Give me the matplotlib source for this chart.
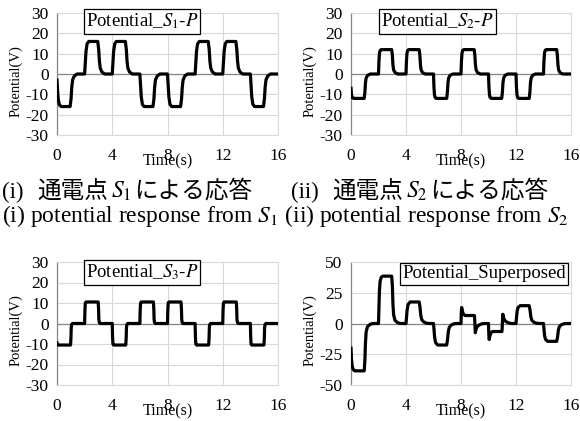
import matplotlib
matplotlib.use("Agg")
import matplotlib.pyplot as plt

W, H = 580, 421

plt.rcParams["font.family"] = ["Liberation Serif", "Noto Sans CJK JP"]
plt.rcParams["mathtext.fontset"] = "stix"
plt.rcParams["axes.unicode_minus"] = False

# ---------------------------------------------------------------------------
# Data (time in s, potential in V)
# ---------------------------------------------------------------------------
X_TICKS = [0, 4, 8, 12, 16]
Y_TICKS_S = [-30, -20, -10, 0, 10, 20, 30]
Y_TICKS_SUP = [-50, -25, 0, 25, 50]

S1_PTS = [
    (0.00, -3.0), (0.05, -9.0), (0.10, -13.0), (0.18, -15.2), (0.30, -16.0), (0.95, -16.0),
    (1.02, -12.0), (1.07, -6.4), (1.13, -2.9), (1.25, -1.0), (1.45, 0.0),
    (2.00, 0.0), (2.05, 5.6), (2.10, 11.2), (2.18, 14.9), (2.30, 16.0), (2.95, 16.0),
    (3.02, 12.0), (3.07, 6.4), (3.13, 2.9), (3.25, 1.0), (3.45, 0.0),
    (4.00, 0.0), (4.05, 5.6), (4.10, 11.2), (4.18, 14.9), (4.30, 16.0), (4.95, 16.0),
    (5.02, 12.0), (5.07, 6.4), (5.13, 2.9), (5.25, 1.0), (5.45, 0.0),
    (6.00, 0.0), (6.05, -5.6), (6.10, -11.2), (6.18, -14.9), (6.30, -16.0), (6.95, -16.0),
    (7.02, -12.0), (7.07, -6.4), (7.13, -2.9), (7.25, -1.0), (7.45, 0.0),
    (8.00, 0.0), (8.05, -5.6), (8.10, -11.2), (8.18, -14.9), (8.30, -16.0), (8.95, -16.0),
    (9.02, -12.0), (9.07, -6.4), (9.13, -2.9), (9.25, -1.0), (9.45, 0.0),
    (10.00, 0.0), (10.05, 5.6), (10.10, 11.2), (10.18, 14.9), (10.30, 16.0), (10.95, 16.0),
    (11.02, 12.0), (11.07, 6.4), (11.13, 2.9), (11.25, 1.0), (11.45, 0.0),
    (12.00, 0.0), (12.05, 5.6), (12.10, 11.2), (12.18, 14.9), (12.30, 16.0), (12.95, 16.0),
    (13.02, 12.0), (13.07, 6.4), (13.13, 2.9), (13.25, 1.0), (13.45, 0.0),
    (14.00, 0.0), (14.05, -5.6), (14.10, -11.2), (14.18, -14.9), (14.30, -16.0), (14.95, -16.0),
    (15.02, -12.0), (15.07, -6.4), (15.13, -2.9), (15.25, -1.0), (15.45, 0.0),
    (16.00, 0.0),
]

S2_PTS = [
    (0.00, -7.0), (0.04, -10.5), (0.10, -11.7), (0.20, -12.0), (0.96, -12.0),
    (1.01, -9.0), (1.05, -4.5), (1.10, -2.0), (1.20, -0.7), (1.40, 0.0),
    (2.00, 0.0), (2.03, 6.0), (2.07, 10.2), (2.12, 11.6), (2.20, 12.0), (2.96, 12.0),
    (3.01, 9.0), (3.05, 4.5), (3.10, 2.0), (3.20, 0.7), (3.40, 0.0),
    (4.00, 0.0), (4.03, 6.0), (4.07, 10.2), (4.12, 11.6), (4.20, 12.0), (4.96, 12.0),
    (5.01, 9.0), (5.05, 4.5), (5.10, 2.0), (5.20, 0.7), (5.40, 0.0),
    (6.00, 0.0), (6.03, -6.0), (6.07, -10.2), (6.12, -11.6), (6.20, -12.0), (6.96, -12.0),
    (7.01, -9.0), (7.05, -4.5), (7.10, -2.0), (7.20, -0.7), (7.40, 0.0),
    (8.00, 0.0), (8.03, 6.0), (8.07, 10.2), (8.12, 11.6), (8.20, 12.0), (8.96, 12.0),
    (9.01, 9.0), (9.05, 4.5), (9.10, 2.0), (9.20, 0.7), (9.40, 0.0),
    (10.00, 0.0), (10.03, -6.0), (10.07, -10.2), (10.12, -11.6), (10.20, -12.0), (10.96, -12.0),
    (11.01, -9.0), (11.05, -4.5), (11.10, -2.0), (11.20, -0.7), (11.40, 0.0),
    (12.00, 0.0), (12.03, -6.0), (12.07, -10.2), (12.12, -11.6), (12.20, -12.0), (12.96, -12.0),
    (13.01, -9.0), (13.05, -4.5), (13.10, -2.0), (13.20, -0.7), (13.40, 0.0),
    (14.00, 0.0), (14.03, 6.0), (14.07, 10.2), (14.12, 11.6), (14.20, 12.0), (14.96, 12.0),
    (15.01, 9.0), (15.05, 4.5), (15.10, 2.0), (15.20, 0.7), (15.40, 0.0),
    (16.00, 0.0),
]

S3_PTS = [
    (0.00, -9.5), (0.03, -10.3), (0.08, -10.5), (0.98, -10.5),
    (1.01, -7.0), (1.03, -2.0), (1.06, -0.5), (1.12, 0.0),
    (2.00, 0.0), (2.02, 6.0), (2.05, 10.0), (2.10, 10.5), (2.98, 10.5),
    (3.01, 7.0), (3.03, 2.0), (3.06, 0.5), (3.12, 0.0),
    (4.00, 0.0), (4.02, -6.0), (4.05, -10.0), (4.10, -10.5), (4.98, -10.5),
    (5.01, -7.0), (5.03, -2.0), (5.06, -0.5), (5.12, 0.0),
    (6.00, 0.0), (6.02, 6.0), (6.05, 10.0), (6.10, 10.5), (6.98, 10.5),
    (7.01, 7.0), (7.03, 2.0), (7.06, 0.5), (7.12, 0.0),
    (8.00, 0.0), (8.02, 6.0), (8.05, 10.0), (8.10, 10.5), (8.98, 10.5),
    (9.01, 7.0), (9.03, 2.0), (9.06, 0.5), (9.12, 0.0),
    (10.00, 0.0), (10.02, -6.0), (10.05, -10.0), (10.10, -10.5), (10.98, -10.5),
    (11.01, -7.0), (11.03, -2.0), (11.06, -0.5), (11.12, 0.0),
    (12.00, 0.0), (12.02, 6.0), (12.05, 10.0), (12.10, 10.5), (12.98, 10.5),
    (13.01, 7.0), (13.03, 2.0), (13.06, 0.5), (13.12, 0.0),
    (14.00, 0.0), (14.02, -6.0), (14.05, -10.0), (14.10, -10.5), (14.98, -10.5),
    (15.01, -7.0), (15.03, -2.0), (15.06, -0.5), (15.12, 0.0),
    (16.00, 0.0),
]

SUP_PTS = [
    (0.00, -20.0), (0.04, -30.0), (0.10, -35.5), (0.20, -38.0), (0.30, -38.5), (0.96, -38.5),
    (1.01, -30.0), (1.05, -16.0), (1.10, -7.0), (1.20, -2.5), (1.40, -0.6), (1.60, 0.0),
    (2.00, 0.0), (2.03, 12.0), (2.07, 27.0), (2.12, 34.5), (2.20, 37.5), (2.30, 38.5), (2.96, 38.5),
    (3.01, 30.0), (3.05, 16.0), (3.10, 7.0), (3.20, 2.5), (3.40, 0.6), (3.60, 0.0),
    (4.00, 0.0), (4.03, 4.0), (4.08, 11.0), (4.15, 15.5), (4.30, 17.5), (4.96, 17.5),
    (5.02, 13.0), (5.08, 6.4), (5.15, 3.0), (5.30, 1.2), (5.50, 0.2), (5.70, 0.0),
    (6.00, 0.0), (6.03, -4.0), (6.08, -11.0), (6.15, -15.5), (6.30, -17.5), (6.96, -17.5),
    (7.02, -13.0), (7.08, -6.4), (7.15, -3.0), (7.30, -1.2), (7.50, -0.2), (7.70, 0.0),
    (8.00, 0.0), (8.02, 8.0), (8.05, 13.0), (8.10, 10.0), (8.18, 7.5), (8.30, 6.5), (8.98, 6.5),
    (9.01, 0.0), (9.04, -7.5), (9.08, -5.5), (9.15, -3.0), (9.30, -1.3), (9.50, -0.3), (9.70, 0.0),
    (10.00, 0.0), (10.02, -8.0), (10.05, -13.0), (10.10, -10.0), (10.18, -7.5), (10.30, -6.5), (10.98, -6.5),
    (11.01, 0.0), (11.04, 7.5), (11.08, 5.5), (11.15, 3.0), (11.30, 1.3), (11.50, 0.3), (11.70, 0.0),
    (12.00, 0.0), (12.03, 4.0), (12.08, 10.0), (12.15, 13.0), (12.30, 14.5), (12.96, 14.5),
    (13.02, 11.0), (13.08, 5.5), (13.15, 2.6), (13.30, 1.0), (13.50, 0.2), (13.70, 0.0),
    (14.00, 0.0), (14.03, -4.0), (14.08, -10.0), (14.15, -13.0), (14.30, -14.5), (14.96, -14.5),
    (15.02, -11.0), (15.08, -5.5), (15.15, -2.6), (15.30, -1.0), (15.50, -0.2), (15.70, 0.0),
    (16.00, 0.0),
]

TITLES = [
    r"Potential_$S_\mathit{1}$-$P$",
    r"Potential_$S_2$-$P$",
    r"Potential_$S_\mathit{3}$-$P$",
    "Potential_Superposed",
]

GRID_C = "#d9d9d9"
AXIS_C = "#868686"


def fxy(x, y):
    """pixel position (from top-left) -> figure fraction"""
    return x / W, 1 - y / H


def draw_panel(fig, rect, pts, yticks, title, box_xy):
    x0, y0, x1, y1 = rect
    ax = fig.add_axes([x0 / W, 1 - y1 / H, (x1 - x0) / W, (y1 - y0) / H])
    t = [p[0] for p in pts]
    v = [p[1] for p in pts]
    ax.plot(t, v, color="black", lw=2.3, solid_joinstyle="round", zorder=3)

    ax.set_xlim(X_TICKS[0], X_TICKS[-1])
    ax.set_ylim(yticks[0], yticks[-1])
    ax.set_xticks(X_TICKS)
    ax.set_yticks(yticks)
    ax.grid(True, color=GRID_C, lw=0.8, zorder=0)
    ax.axhline(0, color=AXIS_C, lw=0.9, zorder=2)
    for s in ("top", "right", "bottom"):
        ax.spines[s].set_color(GRID_C)
        ax.spines[s].set_linewidth(0.8)
    ax.spines["left"].set_color(AXIS_C)
    ax.spines["left"].set_linewidth(0.9)
    ax.tick_params(length=0, labelsize=12.5)
    ax.tick_params(axis="x", pad=9)
    ax.tick_params(axis="y", pad=6)

    # Excel-style: axis title sits right under the tick labels, over the "8"
    fig.text(*fxy((x0 + x1) / 2, y1 + 18), "Time(s)", ha="center", va="top",
             fontsize=11.5)
    fig.text(*fxy(x0 - 41, y0 + 68), "Potential(V)", rotation=90,
             ha="center", va="center", fontsize=10.5)
    fig.text(*fxy(*box_xy), title, ha="center", va="center", fontsize=13.5,
             zorder=5,
             bbox=dict(boxstyle="square,pad=0.12", fc="white", ec="black", lw=0.9))
    return ax


fig = plt.figure(figsize=(W / 100, H / 100), dpi=100)

draw_panel(fig, (57, 13, 278, 135), S1_PTS, Y_TICKS_S, TITLES[0], (142, 21.5))
draw_panel(fig, (351, 13, 571, 135), S2_PTS, Y_TICKS_S, TITLES[1], (437.5, 21.5))
draw_panel(fig, (57, 262, 278, 385), S3_PTS, Y_TICKS_S, TITLES[2], (142, 272.5))
draw_panel(fig, (351, 262, 571, 385), SUP_PTS, Y_TICKS_SUP, TITLES[3], (484, 274))

# captions, line 1 (Japanese), placed piece by piece
JP = "Noto Sans CJK JP"
SERIF = "Liberation Serif"
cap1 = [
    (2, "(i)", SERIF, 16.5), (37, "通電点", JP, 17), (111, r"$S_\mathit{1}$", SERIF, 17),
    (134, "による応答", JP, 17),
    (291, "(ii)", SERIF, 16.5), (332, "通電点", JP, 17), (406, r"$S_2$", SERIF, 17),
    (430, "による応答", JP, 17),
]
for x, s, fam, fs in cap1:
    fig.text(*fxy(x, 198), s, ha="left", va="baseline", fontsize=fs, family=fam)

fig.text(*fxy(2, 222),
         r"(i) potential response from $S_\mathit{1}$ (ii) potential response from $S_2$",
         ha="left", va="baseline", fontsize=16.9, family=SERIF)

fig.savefig("out.png", dpi=100)
